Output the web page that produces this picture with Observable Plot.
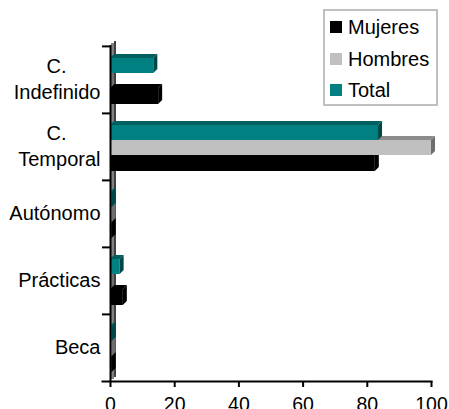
<!DOCTYPE html>
<html><head><meta charset="utf-8">
<script src="https://cdn.jsdelivr.net/npm/d3@7"></script>
<script src="https://cdn.jsdelivr.net/npm/@observablehq/plot@0.6"></script>
<style>
body{margin:0;background:#fff;}
#wrap{position:relative;width:449px;height:409px;overflow:hidden;font-family:"Liberation Sans",Arial,sans-serif;}
#legend{position:absolute;left:323px;top:9px;width:111px;height:93px;border:2px solid #c0c0c0;background:#fff;}
.item{position:absolute;left:5px;height:24px;line-height:24px;display:flex;align-items:center;font-size:20px;color:#000;white-space:nowrap;}
.sw{width:12px;height:12px;margin-right:6px;flex:none;}
</style></head>
<body><div id="wrap"><div id="legend"></div></div>
<script>
const categories = ["C. Indefinido", "C. Temporal", "Autónomo", "Prácticas", "Beca"];
const seriesNames = ["Mujeres", "Hombres", "Total"];
const mujeres = [15, 82.5, 0.5, 4, 0.5];
const hombres = [0, 100, 0.5, 0, 0.5];
const total = [13.5, 83.5, 0.5, 3, 0.5];
const xTicks = [0, 20, 40, 60, 80, 100];

const colors = {Mujeres: "#000000", Hombres: "#c0c0c0", Total: "#008080"};
const faces = {
  Mujeres: {top: "#000000", side: "#000000"},
  Hombres: {top: "#8c8c8c", side: "#6e6e6e"},
  Total: {top: "#006060", side: "#004848"}
};
const insets = {
  Total: {insetTop: 12, insetBottom: 40},
  Hombres: {insetTop: 27, insetBottom: 25},
  Mujeres: {insetTop: 42, insetBottom: 9}
};
const valuesBySeries = {Mujeres: mujeres, Hombres: hombres, Total: total};

const rows = seriesNames.map(s => categories.map((c, i) => ({category: c, series: s, value: valuesBySeries[s][i]})));

function bar3d(name, depth = 4) {
  return function(index, scales, values, dims, context, next) {
    const g = next(index, scales, values, dims, context);
    const ns = "http://www.w3.org/2000/svg";
    const rects = Array.from(g.querySelectorAll("rect"));
    for (const r of rects) {
      const x = +r.getAttribute("x"), y = +r.getAttribute("y");
      const w = +r.getAttribute("width"), h = +r.getAttribute("height");
      const top = document.createElementNS(ns, "polygon");
      top.setAttribute("points", `${x},${y} ${x + depth},${y - depth} ${x + w + depth},${y - depth} ${x + w},${y}`);
      top.setAttribute("fill", faces[name].top);
      const side = document.createElementNS(ns, "polygon");
      side.setAttribute("points", `${x + w},${y} ${x + w + depth},${y - depth} ${x + w + depth},${y + h - depth} ${x + w},${y + h}`);
      side.setAttribute("fill", faces[name].side);
      r.parentNode.appendChild(top);
      r.parentNode.appendChild(side);
    }
    return g;
  };
}

const barMarks = seriesNames.map((s, k) => Plot.barX(rows[k], {
  x: "value", y: "category", fill: colors[s],
  insetTop: insets[s].insetTop, insetBottom: insets[s].insetBottom,
  render: bar3d(s)
}));

const twoLine = categories.filter(c => c.startsWith("C. "));
const oneLine = categories.filter(c => !c.startsWith("C. "));

const chart = Plot.plot({
  width: 449, height: 409,
  marginTop: 45, marginBottom: 28, marginLeft: 110, marginRight: 18,
  style: {fontFamily: "'Liberation Sans', Arial, sans-serif", fontSize: "20px", color: "#000", background: "transparent"},
  x: {domain: [0, 100], ticks: xTicks},
  y: {type: "band", domain: categories, padding: 0},
  marks: [
    Plot.ruleX([0], {stroke: "#808080", strokeWidth: 3, dx: 2, dy: -2}),
    Plot.ruleX([0], {stroke: "#000", strokeWidth: 1.5, dx: 4.5, dy: -4}),
    ...barMarks,
    Plot.ruleX([0], {stroke: "#000", strokeWidth: 2}),
    Plot.frame({anchor: "bottom", stroke: "#000", strokeWidth: 2, insetLeft: -8}),
    Plot.axisX({ticks: xTicks, tickSize: 6, tickPadding: 10, strokeWidth: 2, fontSize: 19.5, label: null}),
    Plot.axisY({tickSize: 8, strokeWidth: 2, tickFormat: () => "", dy: -33.6, label: null}),
    Plot.text(oneLine, {y: d => d, text: d => d, frameAnchor: "left", textAnchor: "end", dx: -10, fontSize: 20}),
    Plot.text(twoLine, {y: d => d, text: d => d.slice(3), frameAnchor: "left", textAnchor: "end", dx: -10, dy: 13, fontSize: 20}),
    Plot.text(twoLine, {y: d => d, text: d => d.slice(0, 2), frameAnchor: "left", textAnchor: "middle", dx: -54, dy: -13, fontSize: 20})
  ]
});
document.getElementById("wrap").prepend(chart);

const legend = document.getElementById("legend");
const tops = [4, 35.5, 67];
seriesNames.forEach((s, i) => {
  const it = document.createElement("div");
  it.className = "item";
  it.style.top = tops[i] + "px";
  const sw = document.createElement("span");
  sw.className = "sw";
  sw.style.background = colors[s];
  it.appendChild(sw);
  it.appendChild(document.createTextNode(s));
  legend.appendChild(it);
});
</script>
</body></html>
